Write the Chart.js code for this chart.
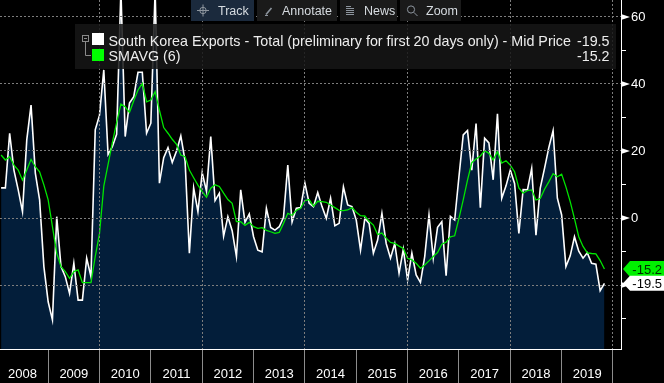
<!DOCTYPE html>
<html>
<head>
<meta charset="utf-8">
<script src="https://cdn.jsdelivr.net/npm/chart.js@4.4.1/dist/chart.umd.min.js"></script>
<style>
html,body{margin:0;padding:0;background:#000;overflow:hidden}
canvas{display:block}
</style>
</head>
<body>
<canvas id="c" width="664" height="383"></canvas>
<script>
// ---------------- data ----------------
const seriesName = 'South Korea Exports - Total (preliminary for first 20 days only) - Mid Price';
const smaName = 'SMAVG (6)';
const firstYear = 2008;      // monthly observations, first one is January 2008
const firstMonth = 1;
const exportsYoY = [
  9, 9, 25.3, 14.3, 8.4, 1.9, 23.3, 33.7, 13.4, 5.4, -14.5, -25,
  -30.4, 0.4, -14.5, -17.5, -22.5, -13.5, -24.5, -24.5, -12, -17.5, 26.3, 30.7,
  44.2, 19, 21.3, 25, 68, 24.3, 34.3, 36.2, 43.5, 43.5, 25.3, 28.3,
  68, 10.4, 18, 21, 16.6, 20, 24.5, 17, -10.5, 9, 1.9, 13.5,
  8, 24.3, 5.2, 7.4, -5.4, 0.4, -3.8, -11.5, 8.4, -1.3, 1.2, -5.6,
  -9.6, -10.1, 2.9, -2.8, -3.6, -2.6, 0.2, 15.8, -1.2, 2.9, 3.1, 10.4,
  4.4, 3.4, 7.6, 3.4, -0.1, 5.9, -2.3, -1.6, 9.3, 3.9, 3.4, -0.6,
  -9.6, -0.1, -1.6, -10.5, -6.6, 1.4, -7.6, -12, -7.6, -16.5, -9.3, -18.5,
  -10.5, -17, -19.2, -11.5, 0.9, -12, -2.8, -1.1, -17.2, 0.5, -0.6, 12.3,
  24.8, 26.1, 14.3, 28.2, 3.1, 23.8, 22.4, 11.4, 31.1, 5.9, 9.6, 14.3,
  10.3, -4.6, 8.5, 8.4, 14.8, -5.1, 8.9, 14.8, 21, 26.1, 5.9, 0.9,
  -14.5, -11.3, -5.6, -9.9, -12, -10.4, -13.5, -13.8, -21.7, -19.5
];
const smavg6 = [
  18.8, 17.3, 18.3, 15.8, 14.3, 11.3, 14.3, 17.5, 15.3, 13.8, 9.9, 5.4,
  -2.6, -10.5, -14.5, -16, -18, -16, -15.5, -19.3, -19.3, -19.3, -11.5, -4.6,
  9.5, 16, 22.5, 28.5, 34, 33.2, 31.5, 35, 38.2, 40.2, 34.7, 35.2,
  37.7, 32.2, 27, 25.3, 23.5, 22, 18.8, 18.3, 14.3, 12, 9.8, 7.9,
  6.2, 8.9, 9.9, 9.4, 7.4, 5.5, 4.4, -1.1, -1.1, -2.2, -1.3, -2.6,
  -3.1, -2.9, -3.7, -4.1, -4.6, -4.3, -1.6, 1.4, 0.8, 2.3, 2.9, 5.2,
  5.5, 3.5, 5.0, 4.9, 4.7, 3.9, 3.1, 2.3, 2.2, 2.4, 3.1, 1.7,
  0.7, 0.6, -1.0, -2.1, -4.9, -4.5, -6.0, -7.3, -7.6, -8.4, -9.1, -12,
  -12.5, -13.5, -15, -14, -12.8, -11.5, -10.3, -7.8, -7.2, -5.6, -5.3, -0.1,
  5.4, 11.3, 16.5, 17.6, 18.5, 20.1, 19.3, 17.3, 19.8, 16.4, 17.1, 15.8,
  13.8, 9, 7.4, 8.2, 8.4, 5.4, 5.8, 8.6, 10.8, 13.2, 12.3, 13.1,
  9.3, 4.9, -0.2, -5.6, -8.5, -10.4, -10.6, -10.7, -12.7, -15.2
];
const yearLabels = ['2008','2009','2010','2011','2012','2013','2014','2015','2016','2017','2018','2019'];
const gridYears = [2010, 2012, 2014, 2016, 2018, 2020];
const yTicks = [-30, -20, -10, 0, 10, 20, 30, 40, 50, 60];
const toolbarItems = ['Track', 'Annotate', 'News', 'Zoom'];

// ---------------- helpers ----------------
// each observation is placed at the end of its month (fractional year)
const monthPos = exportsYoY.map((_, i) => firstYear + (firstMonth - 1 + i + 1) / 12);
const X_MIN = 2008.062, X_MAX = 2020.156;
const Y_MIN = -39.1, Y_MAX = 65.07;
const FONT = "'Liberation Sans', Arial, sans-serif";
const GRID = '#7d7d7d';
const fmt = v => v.toFixed(1);

const zeroPad = s => { s.paddingTop = 0; s.paddingBottom = 0; s.paddingLeft = 0; s.paddingRight = 0; };

const overlay = {
  id: 'overlay',
  beforeDraw(chart) {
    const c = chart.ctx;
    c.save(); c.fillStyle = '#000'; c.fillRect(0, 0, chart.width, chart.height); c.restore();
  },
  afterDraw(chart) {
    const c = chart.ctx, ys = chart.scales.y, ca = chart.chartArea;
    c.save();
    // major tick triangles
    c.fillStyle = '#fff';
    yTicks.filter(v => v % 20 === 0).forEach(v => {
      const py = ys.getPixelForValue(v);
      c.beginPath(); c.moveTo(ca.right, py - 3); c.lineTo(ca.right + 9, py); c.lineTo(ca.right, py + 3); c.closePath(); c.fill();
    });
    // last value tags
    const tag = (val, bg, fg, hh) => {
      const py = ys.getPixelForValue(val);
      const x0 = ca.right + 2;
      c.fillStyle = bg;
      c.beginPath(); c.moveTo(x0, py); c.lineTo(x0 + 7, py - hh); c.lineTo(chart.width, py - hh);
      c.lineTo(chart.width, py + hh); c.lineTo(x0 + 7, py + hh); c.closePath(); c.fill();
      c.fillStyle = fg; c.font = '13px ' + FONT; c.textAlign = 'right'; c.textBaseline = 'middle';
      c.fillText(fmt(val), chart.width - 2, py + 1);
    };
    tag(smavg6[smavg6.length - 1], '#00f000', '#002a00', 8);
    tag(exportsYoY[exportsYoY.length - 1], '#ffffff', '#000000', 7.5);

    // legend box
    c.fillStyle = 'rgba(22,22,22,0.86)';
    c.fillRect(75, 24, 541, 45);
    c.strokeStyle = '#8a8a8a'; c.lineWidth = 1;
    c.strokeRect(82.5, 35.5, 6, 6);
    c.beginPath(); c.moveTo(84, 38.5); c.lineTo(87, 38.5);
    c.moveTo(85.5, 41.5); c.lineTo(85.5, 55.5); c.lineTo(91, 55.5); c.stroke();
    c.fillStyle = '#ffffff'; c.fillRect(92, 33, 12, 12);
    c.fillStyle = '#00ff00'; c.fillRect(92, 49, 12, 12);
    c.fillStyle = '#ededed'; c.font = '14.3px ' + FONT; c.textBaseline = 'alphabetic';
    c.textAlign = 'left';
    c.fillText(seriesName, 108.5, 45.5);
    c.fillText(smaName, 108.5, 61);
    c.textAlign = 'right';
    c.fillText(fmt(exportsYoY[exportsYoY.length - 1]), 609.5, 45.5);
    c.fillText(fmt(smavg6[smavg6.length - 1]), 609.5, 61);

    // toolbar
    const btns = [[191, 254, '#1b2a3d', 218], [257, 337, '#1a1a1a', 282], [340, 397, '#1a1a1a', 364], [400, 461, '#1a1a1a', 426]];
    c.font = '12.5px ' + FONT; c.textAlign = 'left'; c.textBaseline = 'alphabetic';
    btns.forEach((b, i) => {
      c.fillStyle = b[2]; c.fillRect(b[0], 0, b[1] - b[0], 21);
      c.fillStyle = '#d6dbe0'; c.fillText(toolbarItems[i], b[3], 15);
    });
    c.strokeStyle = '#8d959e'; c.lineWidth = 1;
    // crosshair
    c.beginPath(); c.arc(203, 10.5, 3.2, 0, Math.PI * 2);
    c.moveTo(197, 10.5); c.lineTo(209, 10.5); c.moveTo(203, 4.5); c.lineTo(203, 16.5); c.stroke();
    // pencil
    c.lineWidth = 1.6; c.beginPath(); c.moveTo(266, 14.5); c.lineTo(271.5, 8); c.stroke();
    c.lineWidth = 1; c.beginPath(); c.moveTo(265, 15.5); c.lineTo(268, 15.5); c.stroke();
    // news lines
    c.beginPath();
    [6.5, 8.5, 10.5, 12.5, 14.5].forEach((yy, k) => { c.moveTo(346, yy); c.lineTo(k === 0 ? 351 : 354, yy); });
    c.stroke();
    // magnifier
    c.beginPath(); c.arc(411, 9.5, 3.6, 0, Math.PI * 2); c.moveTo(413.8, 12.3); c.lineTo(417.5, 16); c.stroke();
    c.restore();
  }
};

new Chart(document.getElementById('c').getContext('2d'), {
  type: 'line',
  data: {
    datasets: [
      { label: smaName, data: smavg6.map((v, i) => ({ x: monthPos[i], y: v })),
        borderColor: '#00e600', borderWidth: 1.3, pointRadius: 0, fill: false, tension: 0 },
      { label: seriesName, data: exportsYoY.map((v, i) => ({ x: monthPos[i], y: v })),
        borderColor: '#ffffff', borderWidth: 1.6, pointRadius: 0, fill: 'start',
        backgroundColor: '#031e3a', tension: 0 }
    ]
  },
  options: {
    responsive: false, animation: false, devicePixelRatio: 1, events: [],
    layout: { padding: 0, autoPadding: false },
    plugins: { legend: { display: false }, tooltip: { enabled: false } },
    scales: {
      x: {
        type: 'linear', position: 'bottom', min: X_MIN, max: X_MAX, bounds: 'data', weight: 0,
        afterBuildTicks: s => { s.ticks = gridYears.map(v => ({ value: v })); },
        ticks: { display: false },
        grid: { color: GRID, lineWidth: 1, drawTicks: false, z: 1 },
        border: { display: true, color: '#ffffff', width: 1, dash: [2, 2], z: 2 },
        afterFit: s => { s.height = 0; zeroPad(s); }
      },
      xl: {
        type: 'linear', position: 'bottom', min: X_MIN, max: X_MAX, bounds: 'data', weight: 1,
        afterBuildTicks: s => { s.ticks = yearLabels.map(y => ({ value: Number(y) + 0.5 })); },
        ticks: { color: '#ffffff', font: { family: FONT, size: 13 }, padding: -16, maxRotation: 0, autoSkip: false,
                 callback: (v, i) => yearLabels[i] },
        grid: { offset: true, drawOnChartArea: false, drawTicks: true, tickLength: 34, tickColor: '#8c8c8c', color: '#8c8c8c' },
        border: { display: false },
        afterFit: s => { s.height = 34; zeroPad(s); }
      },
      y: {
        type: 'linear', position: 'right', min: Y_MIN, max: Y_MAX, bounds: 'data',
        afterBuildTicks: s => { s.ticks = yTicks.map(v => ({ value: v })); },
        ticks: { color: '#ffffff', font: { family: FONT, size: 13 }, padding: 5, autoSkip: false,
                 callback: v => (v % 20 === 0 ? String(v) : '') },
        grid: {
          color: c => (c.tick && c.tick.value % 20 === 0 ? GRID : 'rgba(0,0,0,0)'),
          tickColor: c => (c.tick && c.tick.value % 20 !== 0 ? '#ffffff' : 'rgba(0,0,0,0)'),
          tickLength: 5, z: 1
        },
        border: { display: true, color: '#ffffff', width: 1, dash: [2, 2], z: 2 },
        afterFit: s => { s.width = 43; zeroPad(s); }
      }
    }
  },
  plugins: [overlay]
});
</script>
</body>
</html>
